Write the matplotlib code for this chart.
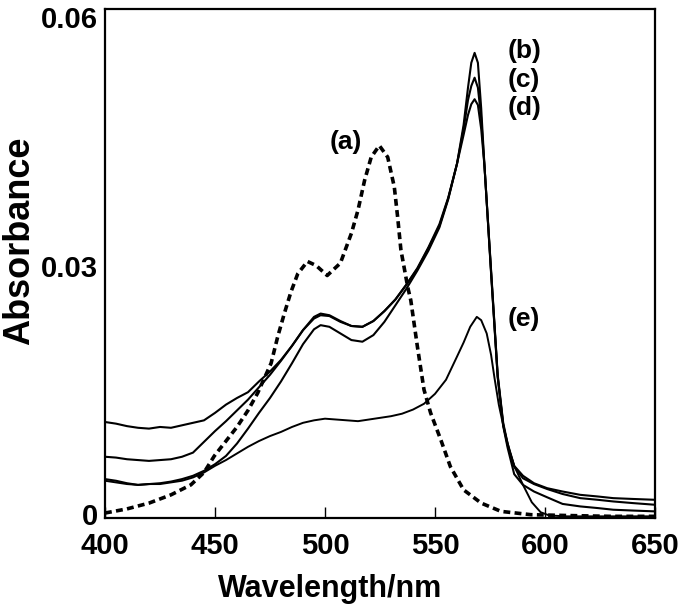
import matplotlib
matplotlib.use("Agg")
import matplotlib.pyplot as plt

# ---------------- data ----------------
wl_a = [400, 410, 420, 424, 430, 439, 445, 449.7, 455, 460, 465, 469.4, 475.5, 478.5, 481.5,
        484.5, 487.6, 492, 496, 501, 507, 512, 515, 518, 521, 524.7, 528.5, 531.5, 533,
        534.5, 537.6, 539, 542, 545, 548, 552.7, 557, 563, 571, 580, 593.6, 610, 630, 650]
abs_a = [0.0001, 0.0006, 0.0013, 0.0017, 0.0023, 0.0035, 0.0050, 0.0070, 0.0088, 0.0105,
         0.0125, 0.0146, 0.0182, 0.0214, 0.0242, 0.0268, 0.0290, 0.0305, 0.0300, 0.0288,
         0.0303, 0.0339, 0.0367, 0.0403, 0.0431, 0.0445, 0.0431, 0.0395, 0.0359, 0.0319,
         0.0274, 0.0258, 0.0202, 0.0150, 0.0122, 0.0089, 0.0057, 0.0029, 0.0013, 0.0003,
         -0.0001, -0.0002, -0.0003, -0.0003]

wl_bcd = [400, 405, 410, 415, 420, 425, 430, 435, 440, 445, 450, 455, 460, 465, 470, 475,
          480, 485, 490, 495, 498, 502, 507, 512, 517, 522, 527, 532, 537, 542, 547, 552,
          556, 560, 563, 565, 566.5, 568, 569.5, 571, 572.5, 575.5, 578.5, 581, 583, 586,
          590, 595, 601, 608, 616, 624, 631, 640, 650]
abs_b = [0.0042, 0.0040, 0.0037, 0.0035, 0.0036, 0.0037, 0.0039, 0.0042, 0.0046, 0.0052,
         0.0060, 0.0070, 0.0085, 0.0103, 0.0122, 0.0140, 0.0160, 0.0182, 0.0205, 0.0223,
         0.0228, 0.0226, 0.0218, 0.0210, 0.0208, 0.0216, 0.0232, 0.0252, 0.0272, 0.0294,
         0.0318, 0.0346, 0.0380, 0.0423, 0.0470, 0.0515, 0.0545, 0.0557, 0.0545, 0.0490,
         0.0420, 0.0290, 0.0165, 0.0106, 0.0080, 0.0048, 0.0035, 0.0027, 0.0020, 0.0012,
         0.0009, 0.0007, 0.0005, 0.0004, 0.0003]
abs_c = [0.0069, 0.0068, 0.0066, 0.0065, 0.0064, 0.0065, 0.0066, 0.0069, 0.0074, 0.0087,
         0.0100, 0.0112, 0.0125, 0.0138, 0.0153, 0.0168, 0.0185, 0.0203, 0.0222, 0.0236,
         0.0240, 0.0239, 0.0232, 0.0227, 0.0226, 0.0233, 0.0245, 0.0259, 0.0277, 0.0296,
         0.0321, 0.0348, 0.0381, 0.0423, 0.0465, 0.0500, 0.0517, 0.0527, 0.0515, 0.0478,
         0.0420, 0.0292, 0.0166, 0.0108, 0.0083, 0.0057, 0.0043, 0.0036, 0.0030, 0.0024,
         0.0019, 0.0017, 0.0015, 0.0013, 0.0011]
abs_d = [0.0111, 0.0109, 0.0106, 0.0104, 0.0103, 0.0105, 0.0104, 0.0107, 0.0110, 0.0113,
         0.0122, 0.0132, 0.0140, 0.0147, 0.0160, 0.0172, 0.0186, 0.0203, 0.0222, 0.0238,
         0.0242, 0.0240, 0.0233, 0.0227, 0.0226, 0.0233, 0.0245, 0.0259, 0.0277, 0.0297,
         0.0322, 0.0350, 0.0382, 0.0423, 0.0458, 0.0482, 0.0495, 0.0501, 0.0494, 0.0465,
         0.0420, 0.0294, 0.0168, 0.0110, 0.0085, 0.0058, 0.0046, 0.0037, 0.0031, 0.0027,
         0.0023, 0.0021, 0.0019, 0.0018, 0.0017]

wl_e = [400, 405, 410, 415, 420, 425, 430, 435, 440, 445, 450, 455, 460, 465, 470, 475, 480,
        485, 490, 495, 500, 505, 510, 515, 520, 525, 530, 535, 540, 545, 550, 555, 560, 563,
        566, 569, 571, 573.5, 575.5, 577, 579, 581.5, 584, 586, 590, 594, 598, 602, 610,
        630, 650]
abs_e = [0.0040, 0.0038, 0.0036, 0.0035, 0.0036, 0.0036, 0.0038, 0.0040, 0.0044, 0.0050,
         0.0058, 0.0065, 0.0073, 0.0081, 0.0088, 0.0094, 0.0099, 0.0105, 0.0110, 0.0113,
         0.0115, 0.0114, 0.0113, 0.0112, 0.0114, 0.0116, 0.0118, 0.0121, 0.0126, 0.0133,
         0.0145, 0.0162, 0.0190, 0.0207, 0.0226, 0.0238, 0.0234, 0.0218, 0.0192, 0.0165,
         0.0132, 0.0101, 0.0075, 0.0058, 0.0035, 0.0014, 0.0002, -0.0002, -0.0003,
         -0.0003, -0.0003]

labels = ["(a)", "(b)", "(c)", "(d)", "(e)"]
label_wl = [509.5, 590.5, 590.5, 590.5, 590.5]
label_abs = [0.0449, 0.0559, 0.0524, 0.0490, 0.0235]

xticks = [400, 450, 500, 550, 600, 650]
yticks = [0, 0.03, 0.06]
ytick_labels = ["0", "0.03", "0.06"]

# ---------------- figure ----------------
narrow = ["Liberation Sans Narrow", "Liberation Sans", "DejaVu Sans"]
regular = ["Liberation Sans", "DejaVu Sans"]

fig = plt.figure(figsize=(6.85, 6.11), dpi=100)
ax = fig.add_axes([105 / 685, 1 - 518 / 611, 550 / 685, 509 / 611])

ax.plot(wl_a, abs_a, color="black", lw=2.6, linestyle=(0, (1.9, 1.2)),
        dash_capstyle="butt")
for y in (abs_b, abs_c, abs_d):
    ax.plot(wl_bcd, y, color="black", lw=1.5)
ax.plot(wl_e, abs_e, color="black", lw=1.4)

for t, x, y in zip(labels, label_wl, label_abs):
    ax.text(x, y, t, ha="center", va="center", fontsize=19, fontweight="bold",
            family=regular)

ax.set_xlim(400, 650)
ax.set_ylim(-0.0005, 0.061)
ax.set_xticks(xticks)
ax.set_xticklabels([str(v) for v in xticks], fontsize=21, fontweight="bold",
                   family=narrow)
ax.set_yticks(yticks)
ax.set_yticklabels(ytick_labels, fontsize=21, fontweight="bold", family=narrow)
ax.tick_params(axis="x", direction="in", length=8, width=1, pad=10)
ax.tick_params(axis="y", length=0, pad=5)
for s in ax.spines.values():
    s.set_linewidth(1.6)

ax.set_xlabel("Wavelength/nm", fontsize=22, fontweight="bold", family=narrow)
ax.xaxis.set_label_coords(0.41, -0.11)
ax.set_ylabel("Absorbance", fontsize=26, fontweight="bold", family=regular)
ax.yaxis.set_label_coords(-0.124, 0.545)

fig.savefig("out.png", dpi=100)
